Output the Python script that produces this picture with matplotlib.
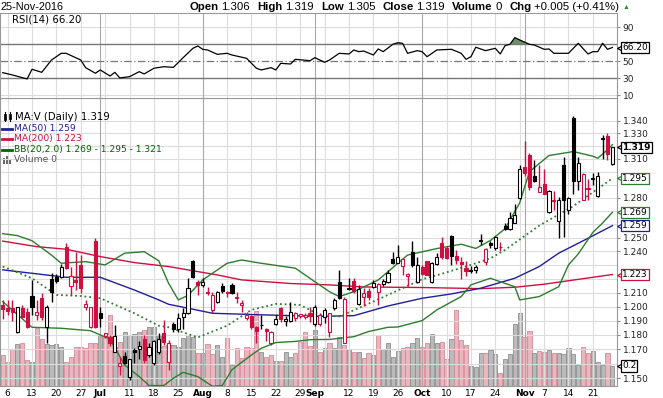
import numpy as np
import pandas as pd
import matplotlib
matplotlib.use("Agg")
import matplotlib.pyplot as plt
import matplotlib.transforms as mtransforms
from matplotlib.patches import Rectangle, Polygon
from matplotlib.lines import Line2D
from matplotlib.ticker import FixedLocator, NullLocator, FuncFormatter

W, H = 663, 398

# ---------------------------
# Data: daily bars 3 Jun - 25 Nov 2016
# ---------------------------
dates = pd.bdate_range("2016-06-03", "2016-11-25")

opens = [
    1.201, 1.199, 1.199, 1.182, 1.1988, 1.1964, 1.2075, 1.1941, 1.2059, 1.1853,
    1.2198, 1.221, 1.2214, 1.2434, 1.2148, 1.2190, 1.2300, 1.2000, 1.1858, 1.2478,
    1.1957, 1.1795, 1.1787, 1.1683, 1.1586, 1.1652, 1.1511, 1.1692, 1.1699, 1.1769,
    1.1657, 1.1603, 1.1683, 1.1816, 1.1614, 1.1875, 1.1840, 1.1924, 1.1952, 1.2331,
    1.2178, 1.2155, 1.2106, 1.1976, 1.2035, 1.2148, 1.2106, 1.2155, 1.2071, 1.2011,
    1.1922, 1.1933, 1.1853, 1.1868, 1.1840, 1.1743, 1.1877, 1.1988, 1.1895, 1.1900,
    1.1917, 1.1930, 1.1924, 1.1957, 1.1875, 1.1875, 1.1925, 1.1823, 1.1988, 1.2178,
    1.1746, 1.2130, 1.2186, 1.2019, 1.2066, 1.2112, 1.2142, 1.2106, 1.2165, 1.2178,
    1.2341, 1.2316, 1.2293, 1.2219, 1.2397, 1.2178, 1.2288, 1.2329, 1.2178, 1.2306,
    1.2459, 1.2421, 1.2510, 1.2365, 1.2323, 1.2278, 1.2266, 1.2262, 1.2482, 1.2319,
    1.2463, 1.2421, 1.2432, 1.2588, 1.2563, 1.2613, 1.2797, 1.3034, 1.3130, 1.2968,
    1.2845, 1.2905, 1.2690, 1.2780, 1.2626, 1.3052, 1.2705, 1.3419, 1.2925, 1.2783,
    1.2877, 1.2942, 1.2814, 1.3262, 1.3277, 1.306]
highs = [
    1.205, 1.205, 1.205, 1.200, 1.201, 1.199, 1.219, 1.2047, 1.2095, 1.201,
    1.2239, 1.2235, 1.2307, 1.2459, 1.2288, 1.2397, 1.2372, 1.2047, 1.2000, 1.2496,
    1.1999, 1.1816, 1.1799, 1.1870, 1.1648, 1.1683, 1.1634, 1.1706, 1.1754, 1.1799,
    1.1745, 1.1766, 1.1811, 1.1905, 1.1766, 1.1887, 1.1957, 1.1988, 1.2203, 1.2335,
    1.2190, 1.2203, 1.2142, 1.2106, 1.2110, 1.2167, 1.2108, 1.2167, 1.2106, 1.2047,
    1.1964, 1.1938, 1.1865, 1.1941, 1.1845, 1.1829, 1.1941, 1.1999, 1.1933, 1.2035,
    1.1964, 1.1950, 1.1952, 1.1995, 1.2011, 1.1952, 1.1988, 1.1955, 1.2059, 1.2262,
    1.2071, 1.2203, 1.2203, 1.2155, 1.2136, 1.2136, 1.2190, 1.2167, 1.2200, 1.2262,
    1.2397, 1.2446, 1.2348, 1.2239, 1.2478, 1.2360, 1.2300, 1.2332, 1.2324, 1.2384,
    1.2508, 1.2440, 1.2518, 1.2412, 1.2356, 1.2330, 1.2290, 1.2300, 1.2527, 1.2427,
    1.2478, 1.2514, 1.2471, 1.2613, 1.2695, 1.2755, 1.3052, 1.3237, 1.3143, 1.3092,
    1.3052, 1.3018, 1.2862, 1.2855, 1.2808, 1.3116, 1.2803, 1.3437, 1.3116, 1.2988,
    1.2945, 1.2992, 1.3000, 1.3287, 1.3300, 1.319]
lows = [
    1.191, 1.194, 1.190, 1.1815, 1.192, 1.185, 1.194, 1.1905, 1.1905, 1.1743,
    1.2035, 1.217, 1.2205, 1.2270, 1.2083, 1.2118, 1.2095, 1.1976, 1.1850, 1.1850,
    1.1853, 1.1775, 1.1720, 1.1683, 1.1522, 1.1600, 1.1488, 1.1603, 1.1630, 1.1603,
    1.1648, 1.1592, 1.1669, 1.1731, 1.1555, 1.1823, 1.1823, 1.1840, 1.1948, 1.2203,
    1.2083, 1.2140, 1.2083, 1.1952, 1.2023, 1.2095, 1.2071, 1.2090, 1.2023, 1.1964,
    1.1905, 1.1840, 1.1746, 1.1840, 1.1757, 1.1731, 1.1872, 1.1887, 1.1865, 1.1893,
    1.1900, 1.1915, 1.1912, 1.1887, 1.1863, 1.1863, 1.1880, 1.1787, 1.1976, 1.2055,
    1.1743, 1.2118, 1.2095, 1.2011, 1.2003, 1.2047, 1.2136, 1.2011, 1.2150, 1.2171,
    1.2306, 1.2312, 1.2224, 1.2148, 1.2288, 1.2171, 1.2224, 1.2224, 1.2171, 1.2300,
    1.2340, 1.2340, 1.2297, 1.2306, 1.2200, 1.2221, 1.2244, 1.2240, 1.2446, 1.2300,
    1.2427, 1.2410, 1.2399, 1.2556, 1.2556, 1.2608, 1.2789, 1.2968, 1.2858, 1.2923,
    1.2845, 1.2825, 1.2683, 1.2707, 1.2496, 1.2508, 1.2676, 1.2830, 1.2858, 1.2780,
    1.2783, 1.2897, 1.2808, 1.3095, 1.3092, 1.305]
closes = [
    1.198, 1.197, 1.196, 1.1995, 1.1928, 1.1858, 1.1999, 1.1964, 1.1928, 1.1995,
    1.2106, 1.2186, 1.2288, 1.2276, 1.2219, 1.2178, 1.2130, 1.2016, 1.1999, 1.1858,
    1.1917, 1.1812, 1.1743, 1.1792, 1.1603, 1.1607, 1.1630, 1.1678, 1.1722, 1.1625,
    1.1713, 1.1754, 1.1769, 1.1751, 1.1743, 1.1840, 1.1922, 1.1952, 1.2136, 1.2215,
    1.2155, 1.2178, 1.2095, 1.2083, 1.2106, 1.2110, 1.2095, 1.2100, 1.2059, 1.2028,
    1.1938, 1.1853, 1.1829, 1.1872, 1.1829, 1.1817, 1.1910, 1.1908, 1.1910, 1.1964,
    1.1952, 1.1945, 1.1941, 1.1933, 1.1999, 1.1938, 1.1976, 1.1952, 1.2047, 1.2059,
    1.2055, 1.2123, 1.2112, 1.2123, 1.2099, 1.2071, 1.2171, 1.2159, 1.2185, 1.2243,
    1.2312, 1.2356, 1.2341, 1.2233, 1.2300, 1.2302, 1.2233, 1.2230, 1.2312, 1.2360,
    1.2355, 1.2350, 1.2364, 1.2339, 1.2310, 1.2254, 1.2256, 1.2285, 1.2478, 1.2415,
    1.2446, 1.2508, 1.2428, 1.2563, 1.2646, 1.2672, 1.3018, 1.2988, 1.2880, 1.2925,
    1.2880, 1.2830, 1.2855, 1.2773, 1.2780, 1.2785, 1.2795, 1.2925, 1.3065, 1.2980,
    1.2870, 1.2952, 1.2968, 1.3257, 1.3136, 1.319]
volumes = [
    31, 24, 37, 42, 43, 26, 24, 58, 47, 42, 41,
    42, 39, 24, 29, 39, 39, 38, 43, 43, 51,
    49, 71, 39, 44, 54, 51, 52, 54, 56, 59,
    59, 51, 40, 41, 41, 39, 48, 51, 49, 33,
    33, 42, 32, 41, 29, 48, 21, 38, 28, 39,
    38, 75, 34, 29, 31, 25, 25, 34, 29, 33,
    44, 54, 40, 56, 34, 38, 43, 38, 49, 41,
    37, 34, 34, 28, 33, 31, 51, 37, 43, 29,
    35, 38, 39, 43, 48, 39, 43, 52, 43, 44,
    27, 47, 76, 46, 41, 20, 19, 33, 33, 36,
    32, 13, 27, 32, 62, 73, 49, 55, 33, 35,
    34, 36, 33, 33, 32, 38, 32, 21, 39, 33,
    35, 24, 21, 33, 20]

# indicator lines, read at a number of bars (bar 0 = 3 Jun)
ma50_bar = [0, 6, 13, 20, 27, 32, 34, 38, 43, 53, 65, 72, 79, 86, 92, 98, 105, 110, 114, 120, 125]
ma50_val = [1.2264, 1.2239, 1.2210, 1.2210, 1.2118, 1.2047, 1.2016, 1.1988, 1.1952, 1.1941, 1.1930,
            1.1935, 1.2004, 1.2059, 1.2090, 1.2131, 1.2203, 1.2288, 1.2386, 1.2496, 1.2590]

ma200_bar = [0, 7, 13, 20, 27, 34, 44, 49, 59, 67, 74, 86, 98, 105, 111, 125]
ma200_val = [1.2475, 1.2434, 1.2415, 1.2361, 1.2317, 1.2288, 1.2227, 1.2191, 1.2165, 1.2155, 1.2140,
             1.2136, 1.2128, 1.2138, 1.2160, 1.2230]

bbm_bar = [0, 6, 11, 16, 20, 27, 32, 34, 40, 46, 51, 56, 61, 65, 69, 74, 79, 86, 90, 96, 100, 103,
           110, 117, 125]
bbm_val = [1.2288, 1.2203, 1.2083, 1.2075, 1.2059, 1.1952, 1.1864, 1.1853, 1.1782, 1.1864, 1.1976,
           1.2019, 1.2011, 1.1940, 1.1929, 1.2004, 1.2083, 1.2196, 1.2235, 1.2300, 1.2348, 1.2410,
           1.2590, 1.2737, 1.2948]

bbu_bar = [0, 3, 6, 10, 12, 17, 21, 25, 29, 32, 34, 36, 38, 41, 46, 49, 53, 60, 64, 67, 69, 72, 77,
           83, 89, 94, 97, 100, 103, 106, 108, 112, 117, 121, 122, 124, 125]
bbu_val = [1.2530, 1.2516, 1.2478, 1.2372, 1.2312, 1.2324, 1.2300, 1.2386, 1.2397, 1.2330, 1.2167,
           1.2047, 1.2080, 1.2191, 1.2312, 1.2336, 1.2312, 1.2276, 1.2178, 1.2106, 1.2071, 1.2106,
           1.2191, 1.2372, 1.2420, 1.2452, 1.2421, 1.2480, 1.2567, 1.2762, 1.3000, 1.3125, 1.3156,
           1.3120, 1.3104, 1.3170, 1.3210]

bbl_bar = [0, 6, 12, 18, 22, 25, 28, 30, 33, 35, 37, 40, 43, 45, 47, 51, 53, 56, 60, 63, 67, 72, 75,
           79, 81, 86, 89, 94, 96, 100, 102, 105, 106, 110, 114, 116, 118, 121, 123, 125]
bbl_val = [1.2035, 1.1853, 1.1846, 1.1829, 1.1770, 1.1590, 1.1511, 1.1450, 1.1450, 1.1500, 1.1540,
           1.1511, 1.1445, 1.1450, 1.1558, 1.1660, 1.1706, 1.1746, 1.1754, 1.1766, 1.1768, 1.1787,
           1.1823, 1.1853, 1.1855, 1.1900, 1.1976, 1.2071, 1.2155, 1.2203, 1.2178, 1.2142, 1.2047,
           1.2071, 1.2142, 1.2300, 1.2380, 1.2540, 1.2610, 1.2690]

rsi_bar = [0, 2, 5, 6, 8, 10, 12, 13, 16, 17, 19, 20, 22, 23, 24, 26, 28, 29, 31, 33, 35, 37, 39, 40,
           41, 42, 44, 46, 47, 50, 52, 53, 55, 56, 57, 59, 60, 63, 64, 66, 67, 69, 71, 72, 73, 74, 76,
           77, 78, 80, 81, 82, 83, 85, 86, 87, 89, 92, 94, 95, 96, 97, 99, 101, 102, 103, 104, 105,
           106, 108, 109, 111, 112, 113, 116, 118, 120, 121, 122, 123, 124, 125]
rsi_val = [36.6, 33.9, 29.2, 40.6, 37.0, 51.5, 59.4, 59.4, 51.5, 42.5, 35.9, 39.8, 32.7, 37.0, 30.4,
           31.9, 37.8, 35.1, 41.8, 43.6, 42.9, 54.3, 65.3, 68.0, 64.1, 63.3, 58.2, 59.4, 57.4, 53.5,
           41.8, 39.8, 42.5, 39.8, 47.6, 46.8, 52.3, 50.7, 54.3, 48.8, 51.5, 59.4, 58.6, 63.3, 61.3,
           62.1, 57.4, 64.5, 61.3, 70.0, 71.9, 71.1, 59.4, 62.5, 61.3, 55.4, 63.3, 64.1, 59.4, 52.3,
           55.4, 66.5, 62.5, 65.3, 58.6, 68.4, 70.0, 77.8, 75.1, 70.0, 69.2, 64.1, 64.5, 59.4, 59.4,
           71.2, 58.6, 61.3, 61.3, 71.2, 64.1, 66.2]

# ---------------------------
# Colours / helpers
# ---------------------------
RED = "#cc1140"
NAVY = "#1f1f99"
GREEN = "#2e7d2e"
GRID = "#dcdcdc"
MONTH_GRID = "#a9a9a9"
SPINE = "#999999"

plt.rcParams["font.family"] = ["DejaVu Sans"]


def fxy(px, py):
    # pixel position (from top-left) -> figure fraction
    return px / W, 1 - py / H


def tag(axis, yval, text, edge, yref=None, bold=False):
    tr = mtransforms.blended_transform_factory(axis.transAxes, (yref or axis).transData)
    axis.plot([1 + 2.5 / 617], [yval], transform=tr, marker="<", ms=5, mfc="white", mec=edge,
              mew=0.9, clip_on=False, zorder=8)
    axis.annotate(text, xy=(1.0, yval), xycoords=tr, xytext=(5, 0), textcoords="offset pixels",
                  ha="left", va="center", fontsize=6.5, color="black",
                  fontweight="bold" if bold else "normal", annotation_clip=False, zorder=9,
                  bbox=dict(boxstyle="square,pad=0.12", fc="white", ec=edge, lw=0.9))
    # pixel height of the tag, used to drop tick labels hidden behind it
    return tr.transform((1.0, yval))[1]


def free_ticks(axis, values, tag_px, gap=10):
    # keep only the tick labels that are not covered by a value tag
    keep = []
    for v in values:
        py = axis.transData.transform((0, v))[1]
        if all(abs(py - t) >= gap for t in tag_px):
            keep.append(v)
    return keep


# ---------------------------
# Figure layout
# ---------------------------
fig = plt.figure(figsize=(W / 100, H / 100), dpi=100)
rect_main = [0, 1 - 386 / H, 617 / W, 288 / H]
rect_rsi = [0, 1 - 98 / H, 617 / W, 85.5 / H]

ax_v = fig.add_axes(rect_main, zorder=0)
ax = fig.add_axes(rect_main, zorder=1)
ax.patch.set_visible(False)
ax_r = fig.add_axes(rect_rsi, zorder=1)

bars = np.arange(len(dates))
xlim = (-0.56, 125.95)

o, h, l, c = (np.array(a) for a in (opens, highs, lows, closes))
prev = np.r_[o[0], c[:-1]]
up = c >= prev
ccol = np.where(up, "black", RED)

# week / month grid positions
month_start = [i for i in range(1, len(dates)) if dates[i].month != dates[i - 1].month]
mondays = [i for i, d in enumerate(dates) if d.weekday() == 0]

# ---------------------------
# Volume (behind price)
# ---------------------------
ax_v.bar(bars, volumes, width=0.86, color=np.where(up, "#bababa", "#eab6be"),
         edgecolor=np.where(up, "#8e8e8e", "#d4899a"), linewidth=0.6)
ax_v.set_xlim(xlim)
ax_v.set_ylim(0, 288)
ax_v.set_axis_off()

# ---------------------------
# Price panel
# ---------------------------
ax.set_yscale("log")
levels = np.round(np.arange(1.15, 1.3401, 0.01), 2)
for lv in levels:
    ax.axhline(lv, color=GRID, lw=0.8, zorder=0)
for m in mondays:
    ax.axvline(m, color=GRID, lw=0.8, zorder=0)
for m in month_start:
    ax.axvline(m, color=MONTH_GRID, lw=0.8, zorder=0)

ax.plot(ma200_bar, ma200_val, color=RED, lw=1.0, zorder=3)
ax.plot(ma50_bar, ma50_val, color=NAVY, lw=1.0, zorder=3)
ax.plot(bbu_bar, bbu_val, color=GREEN, lw=1.0, zorder=3)
ax.plot(bbl_bar, bbl_val, color=GREEN, lw=1.0, zorder=3)
ax.plot(bbm_bar, bbm_val, color=GREEN, lw=1.3, ls=(0, (1, 1.6)), zorder=3)

ax.vlines(bars, l, h, colors=ccol, lw=1.0, zorder=4)
for xi, oi, ci, col in zip(bars, o, c, ccol):
    lo, hi = min(oi, ci), max(oi, ci)
    face = "white" if ci > oi else col
    ax.add_patch(Rectangle((xi - 0.32, lo), 0.64, hi - lo, facecolor=face, edgecolor=col,
                           lw=0.8, zorder=5))

ax.set_xlim(xlim)
ax.set_ylim(1.1447, 1.3581)
ax.yaxis.set_minor_locator(NullLocator())
ax.yaxis.set_major_formatter(FuncFormatter(lambda v, _: f"{v:.3f}"))
ax.yaxis.tick_right()
ax.tick_params(axis="y", length=2.5, width=0.8, color="#888888", pad=1.5, labelsize=6.5,
               labelcolor="#222222")

tick_pos, tick_lab, tick_bold = [], [], []
for i in sorted(set(month_start) | set(mondays)):
    if i in month_start:
        tick_pos.append(i)
        tick_lab.append(dates[i].strftime("%b"))
        tick_bold.append(True)
    elif not any(abs(i - m) <= 2 for m in month_start):
        tick_pos.append(i)
        tick_lab.append(str(dates[i].day))
        tick_bold.append(False)
ax.xaxis.set_minor_locator(NullLocator())
ax.set_xticks(tick_pos)
ax.set_xticklabels(tick_lab)
ax.tick_params(axis="x", length=0, pad=2.5, labelsize=6.5)
for lab, b in zip(ax.get_xticklabels(), tick_bold):
    if b:
        lab.set_fontweight("bold")

for sp in ax.spines.values():
    sp.set_color(SPINE)
    sp.set_linewidth(0.8)

# right-hand value tags
tags_px = [
    tag(ax, ma200_val[-1], f"{ma200_val[-1]:.3f}", RED),
    tag(ax, ma50_val[-1], f"{ma50_val[-1]:.3f}", NAVY),
    tag(ax, bbl_val[-1], f"{bbl_val[-1]:.3f}", GREEN),
    tag(ax, bbm_val[-1], f"{bbm_val[-1]:.3f}", GREEN),
    tag(ax, closes[-1], f"{closes[-1]:.3f}", "black", bold=True),
    tag(ax, volumes[-1], "0.2", "black", yref=ax_v),
]
ax.yaxis.set_major_locator(FixedLocator(free_ticks(ax, levels, tags_px)))

# ---------------------------
# RSI panel
# ---------------------------
rb = np.array(rsi_bar)
rv = np.array(rsi_val)
for lv in (10, 90):
    ax_r.axhline(lv, color=GRID, lw=0.8, zorder=0)
for m in mondays:
    ax_r.axvline(m, color=GRID, lw=0.8, zorder=0)
for m in month_start:
    ax_r.axvline(m, color=MONTH_GRID, lw=0.8, zorder=0)
ax_r.axhline(70, color="#777777", lw=1.0, zorder=1)
ax_r.axhline(30, color="#777777", lw=1.0, zorder=1)
ax_r.axhline(50, color="#777777", lw=0.9, ls=(0, (6, 2, 1, 2)), zorder=1)
ax_r.fill_between(rb, rv, 70, where=rv > 70, interpolate=True, color="#6b8f6b", lw=0, zorder=2)
ax_r.plot(rb, rv, color="black", lw=0.9, zorder=3)
ax_r.set_xlim(xlim)
ax_r.set_ylim(6.8, 107.4)
ax_r.set_xticks([])
ax_r.yaxis.tick_right()
ax_r.tick_params(axis="y", length=2.5, width=0.8, color="#888888", pad=1.5, labelsize=6.5,
                 labelcolor="#222222")
for sp in ax_r.spines.values():
    sp.set_color(SPINE)
    sp.set_linewidth(0.8)
rsi_tag = tag(ax_r, rsi_val[-1], f"{rsi_val[-1]:.2f}", "black")
ax_r.set_yticks(free_ticks(ax_r, [10, 30, 50, 70, 90], [rsi_tag]))

# ---------------------------
# Legends and header text
# ---------------------------
fig.text(*fxy(12.5, 19.5), f"RSI(14) {rsi_val[-1]:.2f}", fontsize=7.3, va="center", ha="left")
fig.add_artist(Polygon([fxy(3, 23), fxy(5.5, 15), fxy(7.5, 19), fxy(9, 16), fxy(11, 23)],
                       closed=True, transform=fig.transFigure, fc="#6b8f6b", ec="#333333", lw=0.6))

fig.text(*fxy(15, 116.5), f"MA:V (Daily) {closes[-1]:.3f}", fontsize=7.3, va="center", ha="left")
fig.add_artist(Line2D(*zip(fxy(5, 111.5), fxy(5, 121)), transform=fig.transFigure, color="black", lw=0.8))
fig.add_artist(Rectangle(fxy(3.8, 119.5), 2.6 / W, 6 / H, transform=fig.transFigure, fc="black", ec="black", lw=0.5))
fig.add_artist(Line2D(*zip(fxy(10, 112), fxy(10, 121)), transform=fig.transFigure, color="black", lw=0.8))
fig.add_artist(Rectangle(fxy(8.8, 119), 2.6 / W, 5 / H, transform=fig.transFigure, fc="white", ec="black", lw=0.6))

legend_rows = [
    (128.5, f"MA(50) {ma50_val[-1]:.3f}", NAVY),
    (139.0, f"MA(200) {ma200_val[-1]:.3f}", RED),
    (149.5, f"BB(20,2.0) {bbl_val[-1]:.3f} - {bbm_val[-1]:.3f} - {bbu_val[-1]:.3f}", "#006400"),
]
for py, txt, col in legend_rows:
    fig.add_artist(Line2D(*zip(fxy(2, py), fxy(12, py)), transform=fig.transFigure, color=col, lw=2))
    fig.text(*fxy(13.5, py), txt, fontsize=6.6, color=col, va="center", ha="left")
fig.text(*fxy(13.5, 159.5), "Volume 0", fontsize=6.6, color="#555555", va="center", ha="left")
for bx, bh in ((2.5, 6), (5.5, 8), (8.5, 5)):
    fig.add_artist(Rectangle(fxy(bx, 163.5), 2.2 / W, bh / H, transform=fig.transFigure,
                             fc="#666666", ec="none"))

hdr_font = ["Liberation Sans", "DejaVu Sans"]
fig.text(*fxy(0.5, 6.5), dates[-1].strftime("%d-%b-%Y"), fontsize=7.8, family=hdr_font,
         va="center", ha="left")

chg = closes[-1] - closes[-2]
parts = [
    ("Open", "bold", 0), (f"{opens[-1]:.3f}", "normal", 3),
    ("High", "bold", 7), (f"{highs[-1]:.3f}", "normal", 3),
    ("Low", "bold", 7), (f"{lows[-1]:.3f}", "normal", 3),
    ("Close", "bold", 7), (f"{closes[-1]:.3f}", "normal", 3),
    ("Volume", "bold", 7), ("0", "normal", 3),
    ("Chg", "bold", 7), (f"{chg:+.3f} ({chg / closes[-2] * 100:+.2f}%)", "normal", 3),
]
renderer = fig.canvas.get_renderer()
tri = fig.text(*fxy(629, 7.5), "\u25b2", fontsize=5, color="#2e8b2e", family=hdr_font,
               va="center", ha="right")
x_px = tri.get_window_extent(renderer).x0 - 3
for i in range(len(parts) - 1, -1, -1):
    s, wt, _ = parts[i]
    t = fig.text(x_px / W, 1 - 6.5 / H, s, fontsize=8.2, fontweight=wt, family=hdr_font,
                 va="center", ha="right")
    x_px = t.get_window_extent(renderer).x0 - parts[i][2]

fig.savefig("out.png", dpi=100)
